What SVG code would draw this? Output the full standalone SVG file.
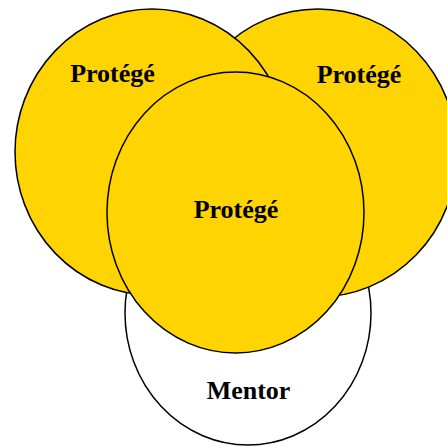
<svg xmlns="http://www.w3.org/2000/svg" width="447" height="446" viewBox="0 0 447 446">
<style>
.c{stroke:#000;stroke-width:1.5}
.y{fill:#FFD400}
.w{fill:#fff}
text{font-family:"Liberation Serif","Times New Roman",serif;font-weight:bold;font-size:26px;text-anchor:middle;fill:#000}
</style>
<rect width="447" height="446" fill="#fff"/>
<g id="mentor"><ellipse class="c w" cx="248" cy="313" rx="123" ry="132"/><text x="248.5" y="399">Mentor</text></g>
<g id="protege-right"><ellipse class="c y" cx="318" cy="153" rx="139" ry="144"/><text x="359" y="83">Protégé</text></g>
<g id="protege-left"><ellipse class="c y" cx="152" cy="152" rx="137" ry="143"/><text x="112.5" y="82">Protégé</text></g>
<g id="protege-center"><ellipse class="c y" cx="235.5" cy="212.5" rx="128.5" ry="140.5"/><text x="236" y="218">Protégé</text></g>
<g id="connectors"/>
</svg>
